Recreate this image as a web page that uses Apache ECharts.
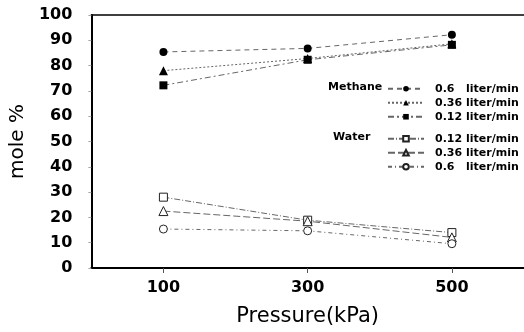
<!DOCTYPE html>
<html>
<head>
<meta charset="utf-8">
<script src="https://cdn.jsdelivr.net/npm/echarts@6/dist/echarts.min.js"></script>
<style>
html,body{margin:0;padding:0;background:#fff;}
#c{width:524px;height:332px;}
</style>
</head>
<body>
<div id="c"></div>
<script>
var pressure = [100, 300, 500];
var xTickLabels = [100, 300, 500];
var methane06 = [85.4, 86.8, 92.2];
var methane036 = [78.0, 82.8, 88.6];
var methane012 = [72.2, 82.3, 88.2];
var water012 = [28.0, 18.9, 14.0];
var water036 = [22.5, 18.5, 12.1];
var water06 = [15.4, 14.7, 9.6];
var legendNames = {
  'M06': '0.6   liter/min', 'M036': '0.36 liter/min', 'M012': '0.12 liter/min',
  'W012': '0.12 liter/min', 'W036': '0.36 liter/min', 'W06': '0.6   liter/min'
};

function pts(arr) { return pressure.map(function (p, i) { return [p, arr[i]]; }); }

var FONT = 'DejaVu Sans';
function mkSeries(name, arr, symbol, filled, dash) {
  return {
    name: name, type: 'line', data: pts(arr),
    symbol: symbol, symbolSize: symbol === 'triangle' ? 9 : 8,
    showSymbol: true,
    lineStyle: { color: '#666', width: 1, type: dash },
    itemStyle: filled ? { color: '#000', borderColor: '#000', borderWidth: 0 }
                      : { color: '#fff', borderColor: '#222', borderWidth: 1 },
    emphasis: { disabled: true },
    animation: false
  };
}

var chart = echarts.init(document.getElementById('c'), null, { renderer: 'canvas' });
var legendBase = {
  orient: 'vertical', left: 387, itemWidth: 36, itemHeight: 7, itemGap: 0.5, padding: 0,
  selectedMode: false,
  textStyle: { fontFamily: FONT, fontWeight: 'bold', fontSize: 11, color: '#000', lineHeight: 13.5, padding: [0, 0, 0, 6] },
  formatter: function (n) { return legendNames[n]; }
};
chart.setOption({
  animation: false,
  grid: { left: 86, right: -2, top: 15, bottom: 59, containLabel: false },
  xAxis: [{
    type: 'value', min: 0, max: 600, interval: 100,
    name: 'Pressure(kPa)', nameLocation: 'middle', nameGap: 38,
    nameTextStyle: { fontFamily: FONT, fontSize: 21, color: '#000' },
    axisLine: { show: true, lineStyle: { color: '#000', width: 2 } },
    axisTick: { show: true, customValues: xTickLabels, length: 5, lineStyle: { color: '#555', width: 1 } },
    axisLabel: { customValues: xTickLabels, margin: 12, fontFamily: FONT, fontWeight: 'bold', fontSize: 16, color: '#000' },
    splitLine: { show: false }
  }, {
    type: 'value', min: 0, max: 600, position: 'top',
    axisLine: { show: true, onZero: false, lineStyle: { color: '#000', width: 1.5 } },
    axisTick: { show: false }, axisLabel: { show: false }, splitLine: { show: false }
  }],
  yAxis: {
    type: 'value', min: 0, max: 100, interval: 10,
    name: 'mole %', nameLocation: 'middle', nameGap: 60,
    nameTextStyle: { fontFamily: FONT, fontSize: 20, color: '#000' },
    axisLine: { show: true, lineStyle: { color: '#000', width: 2 } },
    axisTick: { show: true, length: 3, lineStyle: { color: '#aaa', width: 1 } },
    axisLabel: { margin: 19, fontFamily: FONT, fontWeight: 'bold', fontSize: 16, color: '#000' },
    splitLine: { show: false }
  },
  legend: [
    Object.assign({}, legendBase, { top: 82, data: ['M06', 'M036', 'M012'] }),
    Object.assign({}, legendBase, { top: 132, data: ['W012', 'W036', 'W06'] })
  ],
  graphic: [
    { type: 'text', left: 328, top: 82, style: { text: 'Methane', font: 'bold 11px "DejaVu Sans"', fill: '#000' } },
    { type: 'text', left: 333, top: 132, style: { text: 'Water', font: 'bold 11px "DejaVu Sans"', fill: '#000' } }
  ],
  series: [
    mkSeries('M06', methane06, 'circle', true, [5, 4]),
    mkSeries('M036', methane036, 'triangle', true, [2, 2]),
    mkSeries('M012', methane012, 'rect', true, [6, 3, 2, 3]),
    mkSeries('W012', water012, 'rect', false, [6, 2, 1, 2]),
    mkSeries('W036', water036, 'triangle', false, [7, 3]),
    mkSeries('W06', water06, 'circle', false, [4, 3, 1, 3])
  ]
});
</script>
</body>
</html>
